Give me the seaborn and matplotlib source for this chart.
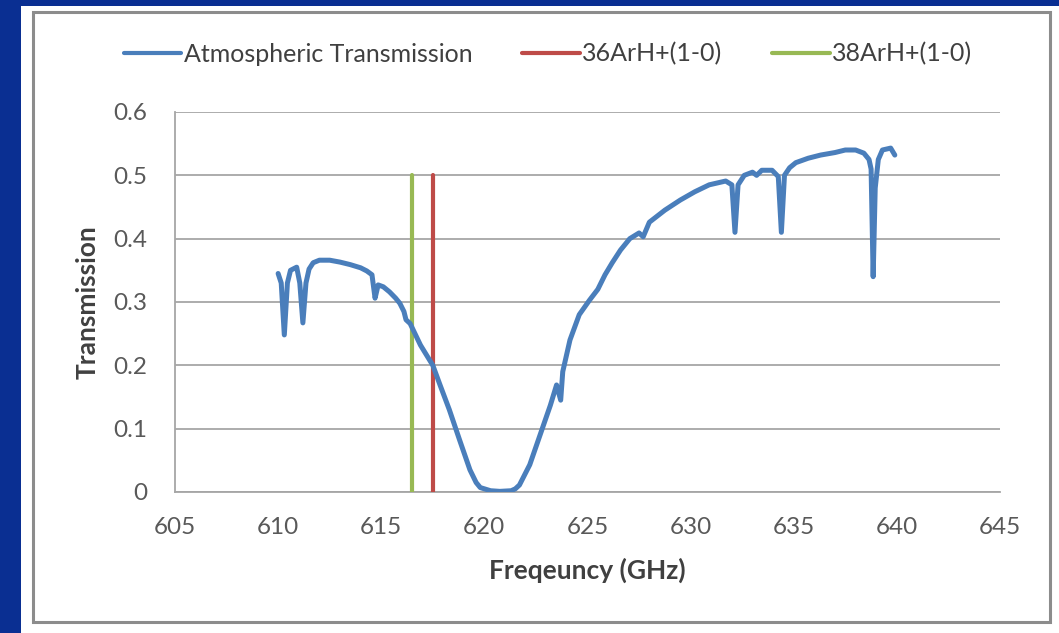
import matplotlib
matplotlib.use("Agg")
import matplotlib.pyplot as plt
import matplotlib.patches as mpatches
from matplotlib.lines import Line2D
import seaborn as sns

# ---- data ----
freq = [610.0, 610.15, 610.3, 610.45, 610.6, 610.9, 611.05, 611.2, 611.35, 611.5,
        611.7, 612.0, 612.5, 613.0, 613.5, 614.0, 614.3, 614.55, 614.7, 614.85,
        615.1, 615.4, 615.7, 615.9, 616.1, 616.2, 616.4,
        616.9, 617.5, 617.85, 618.3, 618.8, 619.3, 619.6, 619.8, 620.3, 620.75, 621.3,
        621.5, 621.7, 622.2, 622.7, 623.2, 623.5, 623.7, 623.8, 624.15, 624.6, 625.1,
        625.5, 625.85, 626.2, 626.6, 627.05, 627.5, 627.7, 628.0, 628.75, 629.5, 630.2,
        630.9, 631.7, 632.0, 632.15, 632.3, 632.6, 633.0, 633.2, 633.45, 633.95,
        634.25, 634.4, 634.55, 634.8, 635.1, 635.7, 636.3, 637.0, 637.5, 638.0,
        638.4, 638.65, 638.75, 638.85, 638.95, 639.1, 639.3, 639.7, 639.9]
trans = [0.345, 0.33, 0.248, 0.33, 0.35, 0.355, 0.33, 0.267, 0.33, 0.352,
         0.362, 0.366, 0.366, 0.363, 0.359, 0.354, 0.349, 0.343, 0.306, 0.327,
         0.324, 0.316, 0.306, 0.298, 0.285, 0.272, 0.266,
         0.232, 0.200, 0.169, 0.130, 0.082, 0.035, 0.015, 0.007, 0.002, 0.001, 0.002,
         0.005, 0.011, 0.043, 0.090, 0.137, 0.169, 0.145, 0.190, 0.240, 0.280, 0.303,
         0.320, 0.343, 0.362, 0.382, 0.400, 0.409, 0.403, 0.426, 0.445, 0.461, 0.474,
         0.485, 0.491, 0.485, 0.410, 0.485, 0.500, 0.505, 0.500, 0.508, 0.508,
         0.498, 0.410, 0.500, 0.512, 0.520, 0.527, 0.532, 0.536, 0.540, 0.540,
         0.535, 0.525, 0.51, 0.340, 0.48, 0.525, 0.540, 0.543, 0.532]

line36_freq = 617.5
line38_freq = 616.5
line_span = [0.0, 0.5]

series_names = ["Atmospheric Transmission", "36ArH+(1-0)", "38ArH+(1-0)"]
xticks = [605, 610, 615, 620, 625, 630, 635, 640, 645]
yticks = [0, 0.1, 0.2, 0.3, 0.4, 0.5, 0.6]
ytick_labels = ["0", "0.1", "0.2", "0.3", "0.4", "0.5", "0.6"]

# ---- style ----
sns.set_theme(style="white")
plt.rcParams["font.family"] = ["Lato", "DejaVu Sans"]

c_blue = "#4a7ebb"
c_red = "#be4b48"
c_green = "#98b954"
c_grid = "#a6a6a6"
c_text = "#595959"

W, H = 1059, 633
fig = plt.figure(figsize=(W / 100, H / 100), dpi=100)
fig.patch.set_facecolor("#0a2f92")

# white slide area
fig.patches.append(mpatches.Rectangle((21 / W, 0), 1 - 21 / W, (H - 6) / H,
                                      transform=fig.transFigure, facecolor="white",
                                      edgecolor="none", zorder=-2))
# chart panel border
fig.patches.append(mpatches.Rectangle((33 / W, (H - 622) / H), (1050 - 33) / W, (622 - 12) / H,
                                      transform=fig.transFigure, facecolor="white",
                                      edgecolor="#8c8c8c", linewidth=2.2, zorder=-1))

ax = fig.add_axes([175 / W, 1 - 492 / H, (1000 - 175) / W, (492 - 112) / H])
ax.set_zorder(2)
ax.set_facecolor("none")

sns.lineplot(x=freq, y=trans, ax=ax, color=c_blue, linewidth=3.6, sort=False,
             estimator=None, zorder=4)
sns.lineplot(x=[line36_freq, line36_freq], y=line_span, ax=ax, color=c_red,
             linewidth=3.0, estimator=None, sort=False, zorder=3)
sns.lineplot(x=[line38_freq, line38_freq], y=line_span, ax=ax, color=c_green,
             linewidth=3.0, estimator=None, sort=False, zorder=3)

ax.set_xlim(605, 645)
ax.set_ylim(0, 0.6)
ax.set_xticks(xticks)
ax.set_yticks(yticks)
ax.set_yticklabels(ytick_labels)
ax.tick_params(axis="both", labelsize=17.5, colors=c_grid, labelcolor=c_text,
               length=8, width=1.2, direction="out")
ax.tick_params(axis="x", pad=10)
ax.tick_params(axis="y", pad=12)
ax.grid(axis="y", color=c_grid, linewidth=1.3)
ax.set_axisbelow(True)
for s in ["top", "right"]:
    ax.spines[s].set_visible(False)
ax.spines["left"].set_color(c_grid)
ax.spines["left"].set_linewidth(1.3)
ax.spines["bottom"].set_color(c_grid)
ax.spines["bottom"].set_linewidth(1.3)

ax.set_xlabel("Freqeuncy (GHz)", fontsize=19, fontweight="bold", color="#404040", labelpad=14)
ax.set_ylabel("Transmission", fontsize=19, fontweight="bold", color="#404040", labelpad=10)

handles = [Line2D([], [], color=c, linewidth=3.0) for c in (c_blue, c_red, c_green)]
fig.legend(handles, series_names, loc="center", bbox_to_anchor=(548 / W, 1 - 54 / H),
           ncol=3, frameon=False, fontsize=18, handlelength=2.3, handletextpad=0.1,
           columnspacing=2.0, labelcolor="#404040")

fig.savefig("out.png", dpi=100, facecolor=fig.get_facecolor())
